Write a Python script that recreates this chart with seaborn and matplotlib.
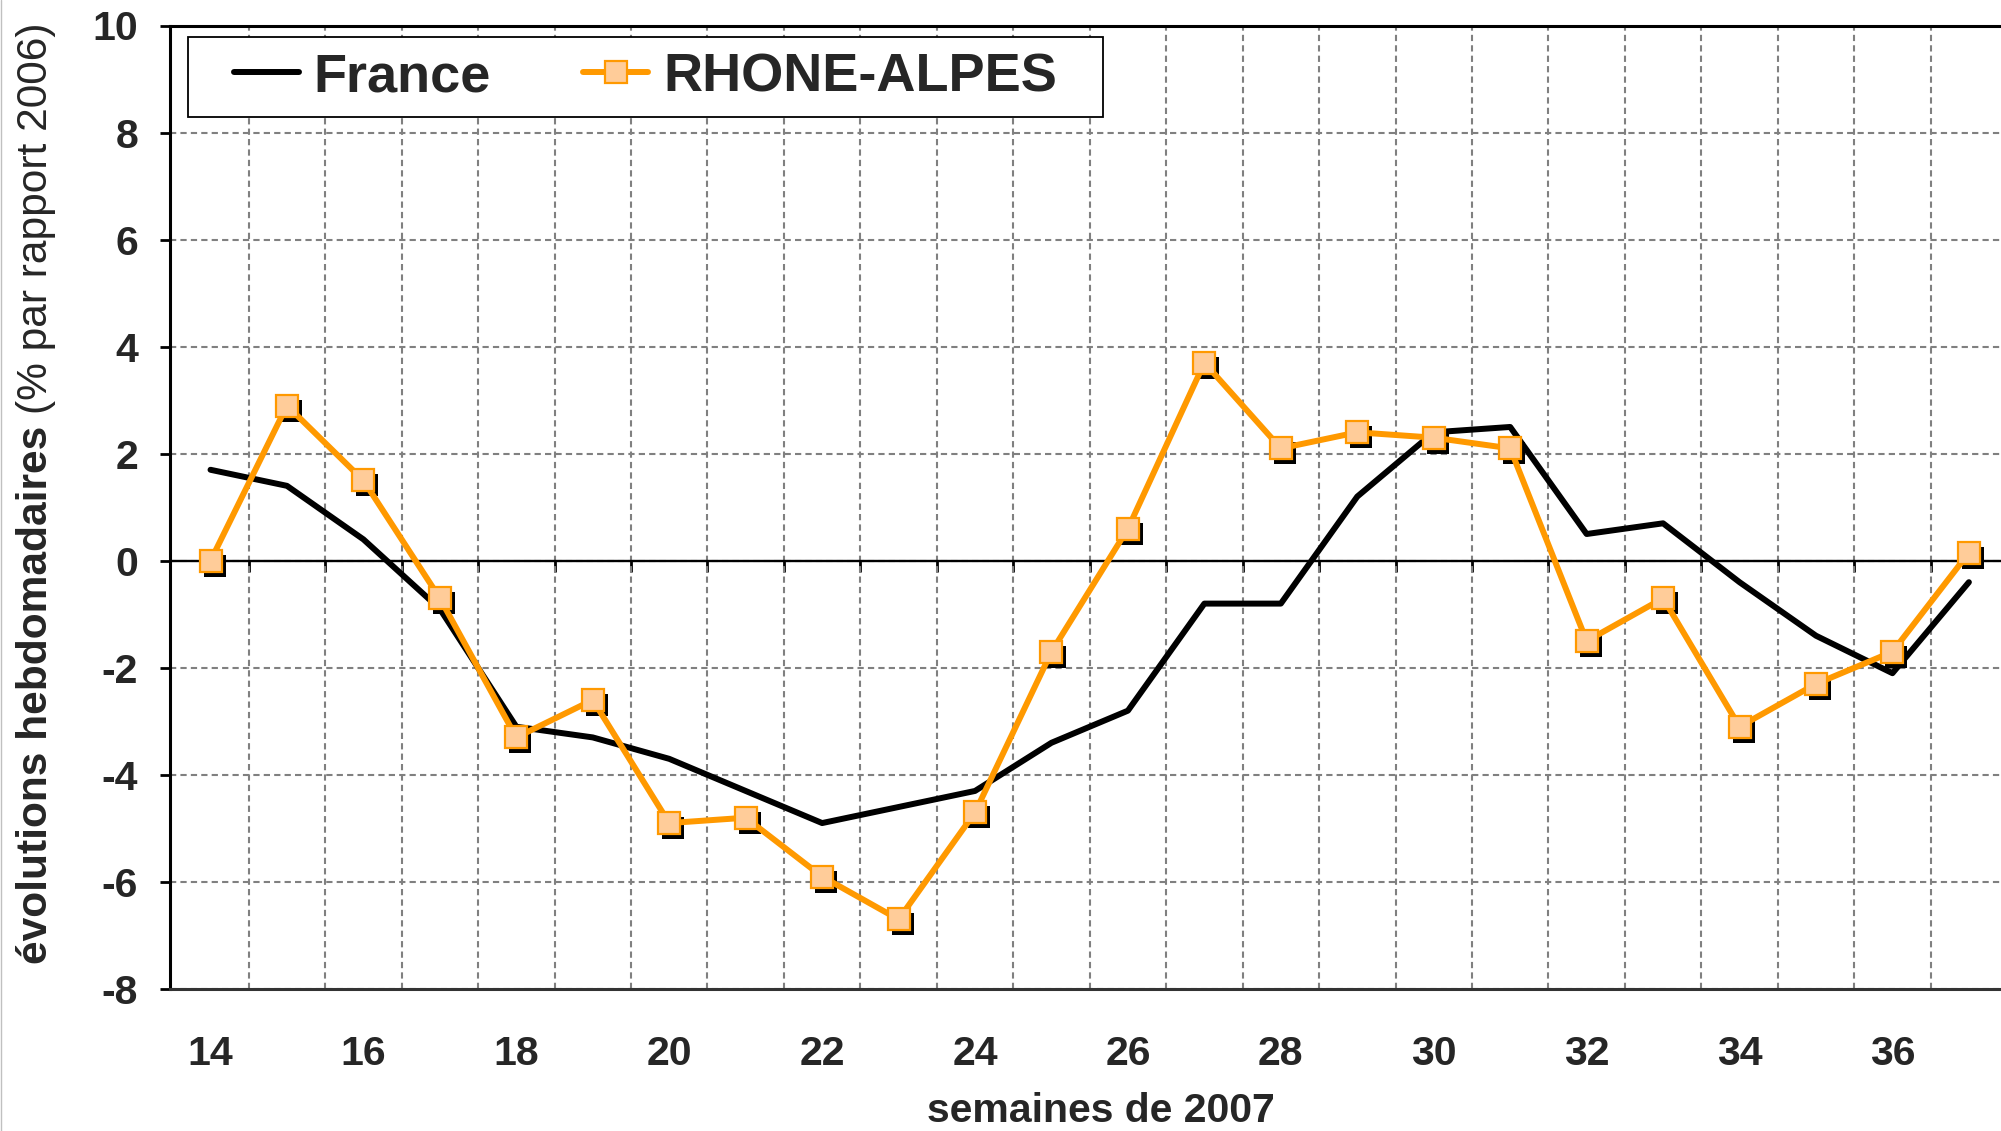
import matplotlib
matplotlib.use("Agg")
import matplotlib.pyplot as plt
import seaborn as sns
import pandas as pd
from matplotlib.transforms import offset_copy
from matplotlib.path import Path
from matplotlib.lines import Line2D

# ---------------- data ----------------
weeks = list(range(14, 38))
france = [1.7, 1.4, 0.4, -0.9, -3.1, -3.3, -3.7, -4.3, -4.9, -4.6, -4.3, -3.4,
          -2.8, -0.8, -0.8, 1.2, 2.4, 2.5, 0.5, 0.7, -0.4, -1.4, -2.1, -0.4]
rhone = [0.0, 2.9, 1.5, -0.7, -3.3, -2.6, -4.9, -4.8, -5.9, -6.7, -4.7, -1.7,
         0.6, 3.7, 2.1, 2.4, 2.3, 2.1, -1.5, -0.7, -3.1, -2.3, -1.7, 0.15]
series_names = ["France", "RHONE-ALPES"]
xtick_weeks = list(range(14, 37, 2))
yticks = list(range(-8, 11, 2))
xlabel = "semaines de 2007"
ylabel_bold = "évolutions hebdomadaires"
ylabel_normal = "(% par rapport 2006)"

df = pd.DataFrame({"week": weeks, "France": france, "RHONE": rhone})

# ---------------- style ----------------
sns.set_theme(style="white")
plt.rcParams["font.family"] = ["Liberation Sans", "DejaVu Sans"]
plt.rcParams["font.weight"] = "bold"
plt.rcParams["axes.unicode_minus"] = False

ORANGE = "#FF9900"
PEACH = "#FFCC99"
GRID = "#808080"

W, H, DPI = 2001, 1131, 100
fig = plt.figure(figsize=(W / DPI, H / DPI), dpi=DPI)
fig.patch.set_facecolor("white")
AX_L, AX_T, AX_B = 170, 25.5, 989
ax = fig.add_axes([AX_L / W, 1 - AX_B / H, 1 - AX_L / W, (AX_B - AX_T) / H])
ax.set_facecolor("white")

# ---------------- series ----------------
sns.lineplot(data=df, x="week", y="France", ax=ax, color="black", lw=4.3,
             zorder=2, legend=False)
line_fr = ax.lines[-1]

shadow_tr = offset_copy(ax.transData, fig=fig, x=4, y=-5, units="dots")
sns.lineplot(data=df, x="week", y="RHONE", ax=ax, color="black", lw=0,
             marker="s", markersize=16, markeredgewidth=0,
             markerfacecolor="black", transform=shadow_tr, zorder=3,
             legend=False)

sns.lineplot(data=df, x="week", y="RHONE", ax=ax, color=ORANGE, lw=4.3,
             marker="s", markersize=16, markerfacecolor=PEACH,
             markeredgecolor=ORANGE, markeredgewidth=1.6, zorder=4,
             legend=False)
line_ra = ax.lines[-1]

ax.axhline(0, color="black", lw=1.7, zorder=1.5)

# ---------------- axes ----------------
ax.set_xlim(13.47, 37.42)
ax.set_ylim(-8, 10)
boundaries = [w + 0.5 for w in weeks[:-1]]

ax.set_xticks(xtick_weeks)
ax.set_xticks(boundaries, minor=True)
ax.set_yticks(yticks)
ax.tick_params(axis="x", which="both", length=0, pad=33, labelsize=29.5)
ax.tick_params(axis="y", which="major", direction="out", length=7, width=2,
               pad=16, labelsize=29.5, left=True, color="black")

gls = (0, (3, 2))
ax.grid(which="minor", axis="x", color=GRID, ls=gls, lw=1.5, zorder=0)
ax.grid(which="major", axis="y", color=GRID, ls=gls, lw=1.5, zorder=0)
ax.grid(which="major", axis="x", visible=False)
ax.set_axisbelow(True)

for s in ["left", "top", "bottom"]:
    ax.spines[s].set_visible(True)
    ax.spines[s].set_color("black")
    ax.spines[s].set_linewidth(2.2)
ax.spines["bottom"].set_color("#333333")
ax.spines["right"].set_visible(False)

# tick marks on the zero line, at the category boundaries
sec = ax.secondary_xaxis(8 / 18)
sec.set_xticks(boundaries)
sec.xaxis.set_ticks_position("bottom")
sec.tick_params(axis="x", which="major", direction="out", length=8, width=2,
                color="black", labelbottom=False, labeltop=False,
                bottom=True, top=False)
sec.tick_params(axis="x", which="minor", length=0)
for s in sec.spines.values():
    s.set_visible(False)

# x label: baseline placed near the bottom edge, as in the reference
ax.set_xlabel(xlabel, fontsize=29.5, fontweight="bold")
ax.xaxis.set_label_coords((1101 - AX_L) / (W - AX_L),
                          (AX_B - 1122) / (AX_B - AX_T))
ax.xaxis.label.set_va("baseline")
ax.set_ylabel("")

# y label: bold part + normal part
t1 = fig.text(0.018, 1 - 963.5 / H, ylabel_bold, rotation=90, ha="center",
              va="bottom", fontsize=30.6, fontweight="bold")
ax.annotate(ylabel_normal, xy=(0.5, 1.0), xycoords=t1, xytext=(0, 11),
            textcoords="offset pixels", rotation=90, ha="center", va="bottom",
            fontsize=30.6, fontweight="normal")

# ---------------- legend ----------------
class WideSquare:
    def __init__(self, padx, pady):
        self.padx, self.pady = padx, pady

    def __call__(self, x0, y0, width, height, mutation_size):
        px, py = self.padx * mutation_size, self.pady * mutation_size
        xa, ya = x0 - px, y0 - py
        xb, yb = x0 + width + px, y0 + height + py
        return Path([(xa, ya), (xb, ya), (xb, yb), (xa, yb), (xa, ya)],
                    closed=True)

padx_em, pady_em = 0.7, 0.13
em_px = 39 * DPI / 72
leg = ax.legend([line_fr, line_ra], series_names, ncol=2, fontsize=39,
                loc="upper left",
                bbox_to_anchor=((187.6 + padx_em * em_px) / W,
                                1 - (37 + pady_em * em_px) / H),
                bbox_transform=fig.transFigure, borderaxespad=0,
                borderpad=0.15, handlelength=1.2, handletextpad=0.28,
                columnspacing=1.7, frameon=True, fancybox=False,
                prop={"weight": "bold", "size": 39})
frame = leg.get_frame()
frame.set_edgecolor("black")
frame.set_linewidth(1.3)
frame.set_facecolor("white")
frame.set_alpha(1)
frame.set_boxstyle(WideSquare(padx_em, pady_em))
leg.set_zorder(10)

fig.add_artist(Line2D([0.0006, 0.0006], [0, 1], transform=fig.transFigure,
                      color="#c0c0c0", lw=1))

fig.savefig("out.png", dpi=DPI, facecolor="white")
